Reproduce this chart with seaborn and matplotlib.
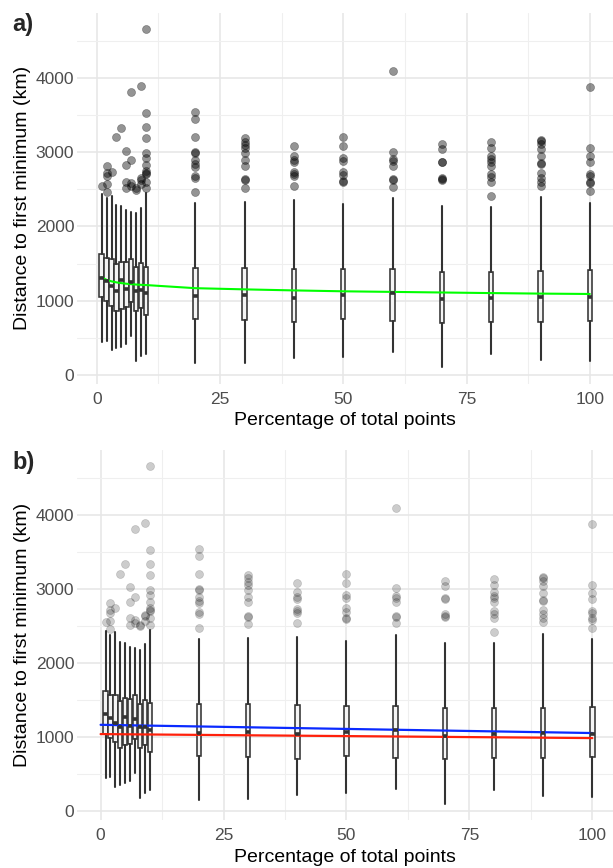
import matplotlib
matplotlib.use("Agg")
import matplotlib.pyplot as plt
import seaborn as sns

# box summaries (km)
positions = [1, 2, 3, 4, 5, 6, 7, 8, 9, 10, 20, 30, 40, 50, 60, 70, 80, 90, 100]
whisker_low = [448, 460, 330, 359, 378, 410, 520, 185, 252, 285,
               157, 166, 224, 247, 305, 103, 283, 202, 193]
box_q1 = [1050, 990, 930, 858, 890, 915, 976, 858, 897, 802,
          754, 740, 709, 750, 727, 704, 718, 718, 731]
box_median = [1310, 1258, 1198, 1135, 1275, 1155, 1248, 1136, 1144, 1100,
              1063, 1077, 1040, 1077, 1100, 1023, 1040, 1054, 1045]
box_q3 = [1626, 1575, 1565, 1490, 1525, 1520, 1565, 1450, 1505, 1458,
          1444, 1444, 1431, 1422, 1422, 1391, 1391, 1400, 1413]
whisker_high = [2430, 2380, 2415, 2288, 2268, 2215, 2198, 2177, 2253, 2445,
                2319, 2333, 2355, 2301, 2378, 2275, 2266, 2392, 2319]
outliers = [
    [2548],
    [2813, 2714, 2680, 2567, 2459],
    [2737],
    [3199],
    [3329],
    [3019, 2827, 2602, 2513],
    [3813, 2894, 2580, 2545],
    [2513, 2495],
    [3890, 2647, 2630, 2567],
    [4652, 3522, 3333, 3186, 2983, 2916, 2827, 2740, 2720, 2700, 2602, 2513],
    [3544, 3441, 3207, 2997, 2985, 2894, 2840, 2804, 2683, 2656, 2467],
    [3186, 3141, 3095, 3050, 2983, 2894, 2818, 2634, 2625, 2521],
    [3082, 2952, 2894, 2863, 2728, 2705, 2678, 2544],
    [3207, 3082, 2916, 2880, 2737, 2692, 2610, 2595],
    [4096, 3006, 2907, 2880, 2818, 2634, 2620, 2534],
    [3109, 3037, 2872, 2865, 2656, 2640, 2620],
    [3140, 3050, 2952, 2903, 2872, 2818, 2705, 2660, 2602, 2413],
    [3163, 3150, 3109, 3037, 2943, 2849, 2840, 2714, 2656, 2602, 2548],
    [3872, 3050, 2943, 2863, 2705, 2680, 2602, 2580, 2476],
]

# smooth trend in panel a
trend_x = [1, 2, 3, 4, 5, 6, 7, 8, 9, 10, 20, 30, 40, 50, 60, 70, 80, 90, 100]
trend_green = [1315, 1280, 1260, 1246, 1236, 1228, 1222, 1217, 1213, 1210,
               1168, 1152, 1138, 1126, 1118, 1110, 1102, 1095, 1090]

# straight fits in panel b
fit_x = [0, 100]
fit_blue = [1168, 1057]
fit_red = [1043, 989]

W, H = 613, 868
sns.set_theme(style="whitegrid")
plt.rcParams['font.family'] = ['Liberation Sans', 'DejaVu Sans']

fig = plt.figure(figsize=(W / 100, H / 100), dpi=100)


def add_axes_px(left, top, right, bottom):
    return fig.add_axes([left / W, 1 - bottom / H, (right - left) / W, (bottom - top) / H])


def draw_panel(ax, point_alpha, xlim):
    stats = []
    for lo, a, m, b, hi, fl in zip(whisker_low, box_q1, box_median, box_q3,
                                   whisker_high, outliers):
        stats.append(dict(whislo=lo, q1=a, med=m, q3=b, whishi=hi, fliers=fl))
    ax.bxp(stats, positions=positions, widths=0.9, patch_artist=True,
           showcaps=False, manage_ticks=False,
           boxprops=dict(facecolor='#f4f4f4', edgecolor='#333333', linewidth=1.15),
           whiskerprops=dict(color='#333333', linewidth=1.5),
           medianprops=dict(color='#333333', linewidth=2.6),
           flierprops=dict(marker='o', markersize=5.8, markerfacecolor='black',
                           markeredgecolor='black', markeredgewidth=0.4,
                           alpha=point_alpha, linestyle='none'))

    ax.set_xlim(*xlim)
    ax.set_ylim(-115, 4872)
    ax.set_xticks([0, 25, 50, 75, 100])
    ax.set_xticks([12.5, 37.5, 62.5, 87.5], minor=True)
    ax.set_yticks([0, 1000, 2000, 3000, 4000])
    ax.set_yticks([500, 1500, 2500, 3500, 4500], minor=True)
    ax.grid(which='major', color='#e6e6e6', linewidth=1.1)
    ax.grid(which='minor', color='#efefef', linewidth=0.8)
    ax.set_axisbelow(True)
    for s in ax.spines.values():
        s.set_visible(False)
    ax.set_facecolor('white')
    ax.tick_params(which='both', length=0, labelsize=12.5, colors='#4d4d4d')
    ax.tick_params(axis='x', pad=6)
    ax.tick_params(axis='y', pad=2)


# panel a
ax_a = add_axes_px(77, 13, 613, 383.5)
draw_panel(ax_a, 0.42, (-4.0, 104.7))
sns.lineplot(x=trend_x, y=trend_green, color='#00ff00', linewidth=1.5, ax=ax_a)
ax_a.set_xlabel('Percentage of total points', fontsize=14, color='black', labelpad=4)
ax_a.set_ylabel('Distance to first minimum (km)', fontsize=14, color='black', labelpad=3)

# panel b
ax_b = add_axes_px(77, 450, 613, 820)
draw_panel(ax_b, 0.2, (-4.8, 104.2))
sns.lineplot(x=fit_x, y=fit_blue, color='#0a2aff', linewidth=1.6, ax=ax_b)
sns.lineplot(x=fit_x, y=fit_red, color='#ff200a', linewidth=1.6, ax=ax_b)
ax_b.set_xlabel('Percentage of total points', fontsize=14, color='black', labelpad=4)
ax_b.set_ylabel('Distance to first minimum (km)', fontsize=14, color='black', labelpad=3)

fig.text(12 / W, 1 - 24 / H, 'a)', fontsize=17, fontweight='bold', va='center', ha='left')
fig.text(12 / W, 1 - 462 / H, 'b)', fontsize=17, fontweight='bold', va='center', ha='left')

fig.savefig('out.png', dpi=100, facecolor='white')
